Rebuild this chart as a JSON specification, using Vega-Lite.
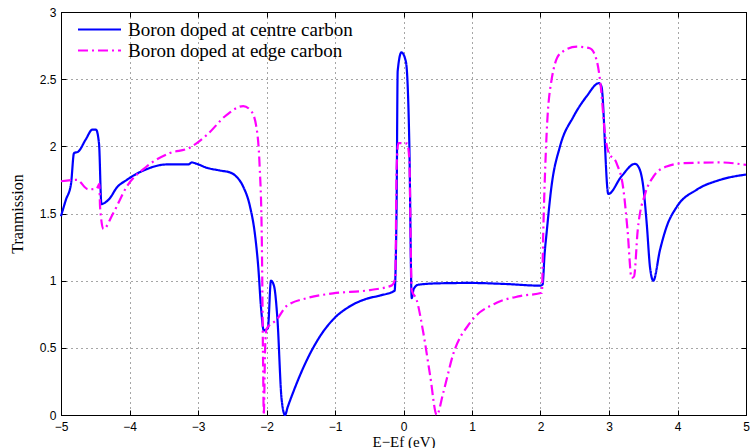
{
  "$schema": "https://vega.github.io/schema/vega-lite/v6.json",
  "width": 685,
  "height": 403,
  "autosize": "none",
  "padding": {"left": 61, "top": 12, "right": 4, "bottom": 33},
  "background": "white",
  "config": {
    "view": {"stroke": "black", "strokeWidth": 1},
    "axis": {
      "labelFont": "Liberation Sans",
      "labelFontSize": 12,
      "labelColor": "black",
      "titleFont": "Liberation Serif",
      "titleFontSize": 16,
      "titleFontWeight": "normal",
      "titleColor": "black",
      "domainColor": "black",
      "tickColor": "black",
      "gridColor": "#000000",
      "gridDash": [1, 4],
      "gridOpacity": 0.7,
      "tickSize": -5,
      "labelOverlap": false
    }
  },
  "data": {
    "values": [
      {"x": -5, "y": 1.48, "s": "Boron doped at centre carbon"},
      {"x": -4.93, "y": 1.6, "s": "Boron doped at centre carbon"},
      {"x": -4.854, "y": 1.72, "s": "Boron doped at centre carbon"},
      {"x": -4.81, "y": 1.95, "s": "Boron doped at centre carbon"},
      {"x": -4.75, "y": 1.96, "s": "Boron doped at centre carbon"},
      {"x": -4.64, "y": 2.05, "s": "Boron doped at centre carbon"},
      {"x": -4.54, "y": 2.125, "s": "Boron doped at centre carbon"},
      {"x": -4.49, "y": 2.125, "s": "Boron doped at centre carbon"},
      {"x": -4.445, "y": 2.02, "s": "Boron doped at centre carbon"},
      {"x": -4.41, "y": 1.57, "s": "Boron doped at centre carbon"},
      {"x": -4.36, "y": 1.58, "s": "Boron doped at centre carbon"},
      {"x": -4.285, "y": 1.615, "s": "Boron doped at centre carbon"},
      {"x": -4.19, "y": 1.69, "s": "Boron doped at centre carbon"},
      {"x": -4.04, "y": 1.75, "s": "Boron doped at centre carbon"},
      {"x": -3.75, "y": 1.83, "s": "Boron doped at centre carbon"},
      {"x": -3.46, "y": 1.865, "s": "Boron doped at centre carbon"},
      {"x": -3.14, "y": 1.865, "s": "Boron doped at centre carbon"},
      {"x": -3.09, "y": 1.88, "s": "Boron doped at centre carbon"},
      {"x": -3.02, "y": 1.87, "s": "Boron doped at centre carbon"},
      {"x": -2.87, "y": 1.84, "s": "Boron doped at centre carbon"},
      {"x": -2.68, "y": 1.82, "s": "Boron doped at centre carbon"},
      {"x": -2.53, "y": 1.805, "s": "Boron doped at centre carbon"},
      {"x": -2.44, "y": 1.775, "s": "Boron doped at centre carbon"},
      {"x": -2.34, "y": 1.7, "s": "Boron doped at centre carbon"},
      {"x": -2.24, "y": 1.55, "s": "Boron doped at centre carbon"},
      {"x": -2.17, "y": 1.35, "s": "Boron doped at centre carbon"},
      {"x": -2.12, "y": 1.1, "s": "Boron doped at centre carbon"},
      {"x": -2.08, "y": 0.8, "s": "Boron doped at centre carbon"},
      {"x": -2.04, "y": 0.63, "s": "Boron doped at centre carbon"},
      {"x": -1.98, "y": 0.645, "s": "Boron doped at centre carbon"},
      {"x": -1.935, "y": 1.0, "s": "Boron doped at centre carbon"},
      {"x": -1.89, "y": 0.96, "s": "Boron doped at centre carbon"},
      {"x": -1.84, "y": 0.71, "s": "Boron doped at centre carbon"},
      {"x": -1.78, "y": 0.12, "s": "Boron doped at centre carbon"},
      {"x": -1.73, "y": 0.0, "s": "Boron doped at centre carbon"},
      {"x": -1.69, "y": 0.06, "s": "Boron doped at centre carbon"},
      {"x": -1.61, "y": 0.17, "s": "Boron doped at centre carbon"},
      {"x": -1.41, "y": 0.41, "s": "Boron doped at centre carbon"},
      {"x": -1.22, "y": 0.585, "s": "Boron doped at centre carbon"},
      {"x": -1.03, "y": 0.71, "s": "Boron doped at centre carbon"},
      {"x": -0.78, "y": 0.81, "s": "Boron doped at centre carbon"},
      {"x": -0.54, "y": 0.865, "s": "Boron doped at centre carbon"},
      {"x": -0.34, "y": 0.89, "s": "Boron doped at centre carbon"},
      {"x": -0.13, "y": 0.925, "s": "Boron doped at centre carbon"},
      {"x": -0.1, "y": 1.6, "s": "Boron doped at centre carbon"},
      {"x": -0.085, "y": 2.56, "s": "Boron doped at centre carbon"},
      {"x": -0.03, "y": 2.7, "s": "Boron doped at centre carbon"},
      {"x": 0.035, "y": 2.63, "s": "Boron doped at centre carbon"},
      {"x": 0.085, "y": 2.02, "s": "Boron doped at centre carbon"},
      {"x": 0.12, "y": 0.87, "s": "Boron doped at centre carbon"},
      {"x": 0.15, "y": 0.94, "s": "Boron doped at centre carbon"},
      {"x": 0.22, "y": 0.97, "s": "Boron doped at centre carbon"},
      {"x": 0.5, "y": 0.98, "s": "Boron doped at centre carbon"},
      {"x": 0.97, "y": 0.983, "s": "Boron doped at centre carbon"},
      {"x": 1.5, "y": 0.975, "s": "Boron doped at centre carbon"},
      {"x": 1.99, "y": 0.963, "s": "Boron doped at centre carbon"},
      {"x": 2.03, "y": 0.97, "s": "Boron doped at centre carbon"},
      {"x": 2.06, "y": 1.2, "s": "Boron doped at centre carbon"},
      {"x": 2.09, "y": 1.36, "s": "Boron doped at centre carbon"},
      {"x": 2.16, "y": 1.7, "s": "Boron doped at centre carbon"},
      {"x": 2.285, "y": 2.0, "s": "Boron doped at centre carbon"},
      {"x": 2.48, "y": 2.22, "s": "Boron doped at centre carbon"},
      {"x": 2.67, "y": 2.37, "s": "Boron doped at centre carbon"},
      {"x": 2.854, "y": 2.47, "s": "Boron doped at centre carbon"},
      {"x": 2.89, "y": 2.445, "s": "Boron doped at centre carbon"},
      {"x": 2.99, "y": 1.645, "s": "Boron doped at centre carbon"},
      {"x": 3.18, "y": 1.775, "s": "Boron doped at centre carbon"},
      {"x": 3.38, "y": 1.87, "s": "Boron doped at centre carbon"},
      {"x": 3.44, "y": 1.838, "s": "Boron doped at centre carbon"},
      {"x": 3.5, "y": 1.7, "s": "Boron doped at centre carbon"},
      {"x": 3.55, "y": 1.43, "s": "Boron doped at centre carbon"},
      {"x": 3.6, "y": 1.094, "s": "Boron doped at centre carbon"},
      {"x": 3.647, "y": 1.0, "s": "Boron doped at centre carbon"},
      {"x": 3.745, "y": 1.23, "s": "Boron doped at centre carbon"},
      {"x": 3.84, "y": 1.4, "s": "Boron doped at centre carbon"},
      {"x": 3.99, "y": 1.55, "s": "Boron doped at centre carbon"},
      {"x": 4.28, "y": 1.677, "s": "Boron doped at centre carbon"},
      {"x": 4.62, "y": 1.75, "s": "Boron doped at centre carbon"},
      {"x": 5, "y": 1.79, "s": "Boron doped at centre carbon"},

      {"x": -5, "y": 1.74, "s": "Boron doped at edge carbon"},
      {"x": -4.77, "y": 1.75, "s": "Boron doped at edge carbon"},
      {"x": -4.6, "y": 1.68, "s": "Boron doped at edge carbon"},
      {"x": -4.48, "y": 1.685, "s": "Boron doped at edge carbon"},
      {"x": -4.44, "y": 1.72, "s": "Boron doped at edge carbon"},
      {"x": -4.43, "y": 1.55, "s": "Boron doped at edge carbon"},
      {"x": -4.38, "y": 1.385, "s": "Boron doped at edge carbon"},
      {"x": -4.24, "y": 1.5, "s": "Boron doped at edge carbon"},
      {"x": -4.04, "y": 1.7, "s": "Boron doped at edge carbon"},
      {"x": -3.75, "y": 1.85, "s": "Boron doped at edge carbon"},
      {"x": -3.41, "y": 1.95, "s": "Boron doped at edge carbon"},
      {"x": -3.12, "y": 1.99, "s": "Boron doped at edge carbon"},
      {"x": -2.87, "y": 2.085, "s": "Boron doped at edge carbon"},
      {"x": -2.58, "y": 2.235, "s": "Boron doped at edge carbon"},
      {"x": -2.34, "y": 2.3, "s": "Boron doped at edge carbon"},
      {"x": -2.22, "y": 2.26, "s": "Boron doped at edge carbon"},
      {"x": -2.15, "y": 2.15, "s": "Boron doped at edge carbon"},
      {"x": -2.1, "y": 1.85, "s": "Boron doped at edge carbon"},
      {"x": -2.07, "y": 1.36, "s": "Boron doped at edge carbon"},
      {"x": -2.05, "y": 0.4, "s": "Boron doped at edge carbon"},
      {"x": -2.04, "y": 0.0, "s": "Boron doped at edge carbon"},
      {"x": -2.02, "y": 0.5, "s": "Boron doped at edge carbon"},
      {"x": -2.0, "y": 0.64, "s": "Boron doped at edge carbon"},
      {"x": -1.85, "y": 0.71, "s": "Boron doped at edge carbon"},
      {"x": -1.71, "y": 0.81, "s": "Boron doped at edge carbon"},
      {"x": -1.41, "y": 0.87, "s": "Boron doped at edge carbon"},
      {"x": -1.03, "y": 0.905, "s": "Boron doped at edge carbon"},
      {"x": -0.49, "y": 0.93, "s": "Boron doped at edge carbon"},
      {"x": -0.17, "y": 0.965, "s": "Boron doped at edge carbon"},
      {"x": -0.12, "y": 1.02, "s": "Boron doped at edge carbon"},
      {"x": -0.1, "y": 1.85, "s": "Boron doped at edge carbon"},
      {"x": -0.075, "y": 2.025, "s": "Boron doped at edge carbon"},
      {"x": 0.055, "y": 2.02, "s": "Boron doped at edge carbon"},
      {"x": 0.085, "y": 1.9, "s": "Boron doped at edge carbon"},
      {"x": 0.12, "y": 0.93, "s": "Boron doped at edge carbon"},
      {"x": 0.19, "y": 0.86, "s": "Boron doped at edge carbon"},
      {"x": 0.29, "y": 0.61, "s": "Boron doped at edge carbon"},
      {"x": 0.39, "y": 0.29, "s": "Boron doped at edge carbon"},
      {"x": 0.485, "y": 0.0, "s": "Boron doped at edge carbon"},
      {"x": 0.58, "y": 0.165, "s": "Boron doped at edge carbon"},
      {"x": 0.73, "y": 0.46, "s": "Boron doped at edge carbon"},
      {"x": 0.97, "y": 0.685, "s": "Boron doped at edge carbon"},
      {"x": 1.36, "y": 0.835, "s": "Boron doped at edge carbon"},
      {"x": 1.7, "y": 0.885, "s": "Boron doped at edge carbon"},
      {"x": 2.02, "y": 0.91, "s": "Boron doped at edge carbon"},
      {"x": 2.04, "y": 1.355, "s": "Boron doped at edge carbon"},
      {"x": 2.09, "y": 2.1, "s": "Boron doped at edge carbon"},
      {"x": 2.16, "y": 2.49, "s": "Boron doped at edge carbon"},
      {"x": 2.285, "y": 2.69, "s": "Boron doped at edge carbon"},
      {"x": 2.53, "y": 2.742, "s": "Boron doped at edge carbon"},
      {"x": 2.72, "y": 2.73, "s": "Boron doped at edge carbon"},
      {"x": 2.82, "y": 2.64, "s": "Boron doped at edge carbon"},
      {"x": 2.88, "y": 2.445, "s": "Boron doped at edge carbon"},
      {"x": 2.94, "y": 2.1, "s": "Boron doped at edge carbon"},
      {"x": 2.99, "y": 1.96, "s": "Boron doped at edge carbon"},
      {"x": 3.11, "y": 1.875, "s": "Boron doped at edge carbon"},
      {"x": 3.21, "y": 1.68, "s": "Boron doped at edge carbon"},
      {"x": 3.27, "y": 1.38, "s": "Boron doped at edge carbon"},
      {"x": 3.33, "y": 1.02, "s": "Boron doped at edge carbon"},
      {"x": 3.365, "y": 1.03, "s": "Boron doped at edge carbon"},
      {"x": 3.42, "y": 1.38, "s": "Boron doped at edge carbon"},
      {"x": 3.53, "y": 1.65, "s": "Boron doped at edge carbon"},
      {"x": 3.65, "y": 1.776, "s": "Boron doped at edge carbon"},
      {"x": 3.84, "y": 1.85, "s": "Boron doped at edge carbon"},
      {"x": 4.09, "y": 1.875, "s": "Boron doped at edge carbon"},
      {"x": 4.62, "y": 1.88, "s": "Boron doped at edge carbon"},
      {"x": 5, "y": 1.862, "s": "Boron doped at edge carbon"}
    ]
  },
  "layer": [
    {
      "mark": {"type": "line", "strokeWidth": 2.2, "interpolate": "monotone"},
      "encoding": {
        "x": {
          "field": "x", "type": "quantitative",
          "scale": {"domain": [-5, 5], "nice": false},
          "axis": {"title": "E−Ef (eV)", "values": [-5,-4,-3,-2,-1,0,1,2,3,4,5], "labelPadding": 11, "titlePadding": 2, "titleFontSize": 15, "labelFlush": false}
        },
        "y": {
          "field": "y", "type": "quantitative",
          "scale": {"domain": [0, 3], "nice": false},
          "axis": {"title": "Tranmission", "values": [0,0.5,1,1.5,2,2.5,3], "format": "~f", "labelPadding": 10, "titlePadding": 14}
        },
        "color": {
          "field": "s", "type": "nominal",
          "scale": {"domain": ["Boron doped at centre carbon", "Boron doped at edge carbon"], "range": ["#0000ff", "#ff00ff"]},
          "legend": {
            "title": null, "orient": "none", "legendX": 16, "legendY": 8,
            "labelFont": "Liberation Serif", "labelFontSize": 19, "labelColor": "black", "labelLimit": 0,
            "symbolType": "stroke", "symbolSize": 1849, "symbolStrokeWidth": 2,
            "clipHeight": 19, "rowPadding": 1, "labelOffset": 6, "padding": 0
          }
        },
        "strokeDash": {
          "field": "s", "type": "nominal",
          "scale": {"domain": ["Boron doped at centre carbon", "Boron doped at edge carbon"], "range": [[1, 0], [10, 4, 2, 4]]},
          "legend": {"title": null}
        }
      }
    },
    {
      "mark": {"type": "point", "opacity": 0},
      "encoding": {
        "x": {
          "field": "x", "type": "quantitative",
          "scale": {"domain": [-5, 5], "nice": false},
          "axis": {"orient": "top", "title": null, "labels": false, "grid": false, "values": [-5,-4,-3,-2,-1,0,1,2,3,4,5]}
        },
        "y": {
          "field": "y", "type": "quantitative",
          "scale": {"domain": [0, 3], "nice": false},
          "axis": {"orient": "right", "title": null, "labels": false, "grid": false, "values": [0,0.5,1,1.5,2,2.5,3]}
        }
      }
    }
  ],
  "resolve": {"axis": {"x": "independent", "y": "independent"}}
}
